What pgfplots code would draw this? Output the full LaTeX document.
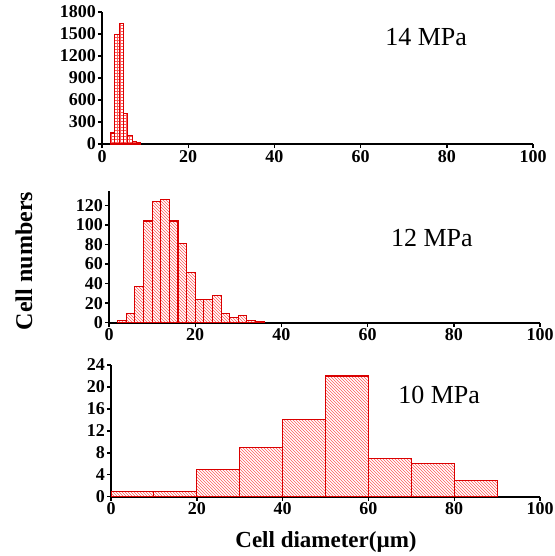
\documentclass[border=0pt]{standalone}
\usepackage{pgfplots}
\pgfplotsset{compat=1.18}
\usetikzlibrary{patterns}
\usepackage{fontspec}
\setmainfont{Liberation Serif}

\pgfplotsset{
  panel/.style={
    scale only axis,
    anchor=south west,
    axis x line=bottom, axis y line=left,
    axis line style={-, line width=1.6pt, black},
    xmin=0, xmax=100, xtick={0,20,...,100}, ymin=0,
    tick align=outside, major tick length=4pt,
    tick style={line width=1.4pt, black},
    tick label style={font=\bfseries\fontsize{18}{18}\selectfont},
    yticklabel style={inner sep=2pt},
    xticklabel style={inner sep=2pt},
    /pgf/number format/assume math mode=true,
    /pgf/number format/1000 sep={},
  },
  hbar/.style={ybar interval, draw=red!85!black, line width=1.1pt,
    pattern=north west lines, pattern color=red!65},
}

\begin{document}
\begin{tikzpicture}
% 14 MPa
\begin{axis}[panel, at={(102pt,-144pt)}, width=431pt, height=132pt,
  ymax=1800, ytick={0,300,...,1800}]
\addplot[hbar, pattern=grid] coordinates {
  (2,150)(3,1490)(4,1640)(5,410)(6,115)(7,37)(8,18)(9,0)
};
\node[font=\fontsize{26}{26}\selectfont] at (rel axis cs:0.752,0.81) {14 MPa};
\end{axis}

% 12 MPa
\begin{axis}[panel, at={(109pt,-322.7pt)}, width=431pt, height=132pt,
  ymax=135, ytick={0,20,...,120}]
\addplot[hbar] coordinates {
  (2,2)(4,9)(6,37)(8,104)(10,124)(12,126)(14,104)(16,81)(18,51)
  (20,24)(22,24)(24,28)(26,9)(28,5)(30,7)(32,2)(34,1)(36,0)
};
\node[font=\fontsize{26}{26}\selectfont] at (rel axis cs:0.749,0.645) {12 MPa};
\end{axis}

% 10 MPa
\begin{axis}[panel, at={(111pt,-496.7pt)}, width=429pt, height=131.7pt,
  ymax=24, ytick={0,4,...,24}]
\addplot[hbar] coordinates {
  (0,1)(10,1)(20,5)(30,9)(40,14)(50,22)(60,7)(70,6)(80,3)(90,0)
};
\node[font=\fontsize{26}{26}\selectfont] at (rel axis cs:0.765,0.77) {10 MPa};
\end{axis}

\node[font=\bfseries\fontsize{23}{23}\selectfont] at (326pt,-542pt) {Cell diameter(µm)};
\node[font=\bfseries\fontsize{24}{24}\selectfont, rotate=90] at (24pt,-261pt) {Cell numbers};

\pgfresetboundingbox
\path[use as bounding box] (0,0) rectangle (554pt,-556pt);
\end{tikzpicture}
\end{document}
